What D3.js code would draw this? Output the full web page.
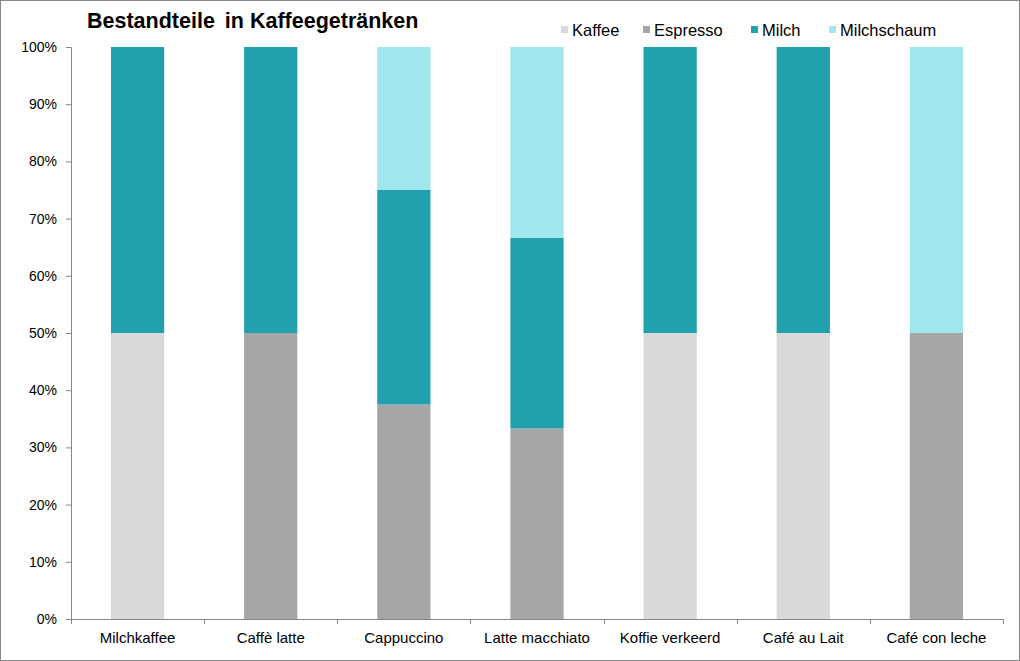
<!DOCTYPE html>
<html>
<head>
<meta charset="utf-8">
<script src="https://cdn.jsdelivr.net/npm/d3@7"></script>
<style>
  body { margin: 0; background: #fff; }
  text { font-family: "Liberation Sans", Arial, sans-serif; }
</style>
</head>
<body>
<div id="chart-container"></div>
<script>
// Data
var categories = ["Milchkaffee", "Caffè latte", "Cappuccino", "Latte macchiato", "Koffie verkeerd", "Café au Lait", "Café con leche"];
var seriesNames = ["Kaffee", "Espresso", "Milch", "Milchschaum"];
var kaffee      = [50, 0, 0, 0, 50, 50, 0];
var espresso    = [0, 50, 37.5, 33.33, 0, 0, 50];
var milch       = [50, 50, 37.5, 33.33, 50, 50, 0];
var milchschaum = [0, 0, 25, 33.34, 0, 0, 50];
var yTicks = [0, 0.1, 0.2, 0.3, 0.4, 0.5, 0.6, 0.7, 0.8, 0.9, 1];
var colors = ["#d9d9d9", "#a6a6a6", "#21a0ad", "#a0e6ec"];

var W = 1020, H = 661;
var margin = { top: 47, right: 17, bottom: 42, left: 71 };
var width = W - margin.left - margin.right,
    height = H - margin.top - margin.bottom;

var table = categories.map(function (c, i) {
    return { cat: c, Kaffee: kaffee[i], Espresso: espresso[i], Milch: milch[i], Milchschaum: milchschaum[i] };
});
var stacked = d3.stack().keys(seriesNames).offset(d3.stackOffsetExpand)(table);

var svgRoot = d3.select("#chart-container").append("svg")
    .attr("width", W).attr("height", H);

// outer border
svgRoot.append("rect")
    .attr("x", 0.5).attr("y", 0.5)
    .attr("width", W - 1).attr("height", H - 1)
    .attr("fill", "#fff").attr("stroke", "#868686");

var svg = svgRoot.append("g")
    .attr("transform", "translate(" + margin.left + "," + margin.top + ")");

var x = d3.scaleBand().domain(categories).range([0, width]).paddingInner(0).paddingOuter(0);
var y = d3.scaleLinear().domain([0, 1]).range([height, 0]);
var barW = x.bandwidth() * 0.4;

// bars
svg.selectAll(".layer")
    .data(stacked)
    .enter().append("g")
    .attr("fill", function (d, i) { return colors[i]; })
    .selectAll("rect")
    .data(function (d) { return d; })
    .enter().append("rect")
    .attr("x", function (d) { return x(d.data.cat) + (x.bandwidth() - barW) / 2; })
    .attr("width", barW)
    .attr("y", function (d) { return y(d[1]); })
    .attr("height", function (d) { return y(d[0]) - y(d[1]); });

// y axis
var yAxis = svg.append("g")
    .call(d3.axisLeft(y).tickValues(yTicks).tickFormat(d3.format(".0%")).tickSize(5).tickPadding(9));
yAxis.select(".domain").attr("stroke", "#868686");
yAxis.selectAll(".tick line").attr("stroke", "#868686");
yAxis.selectAll("text").attr("font-size", "14px").attr("fill", "#000")
    .style("font-family", "'Liberation Sans', Arial, sans-serif");

// x axis (ticks at band edges)
var xAxisG = svg.append("g").attr("transform", "translate(0," + height + ")");
xAxisG.append("line").attr("x1", 0).attr("x2", width).attr("y1", 0.5).attr("y2", 0.5).attr("stroke", "#868686");
xAxisG.selectAll(".xt")
    .data(categories.concat(["end"]))
    .enter().append("line")
    .attr("x1", function (d, i) { return Math.round(i * x.step()) + 0.5; })
    .attr("x2", function (d, i) { return Math.round(i * x.step()) + 0.5; })
    .attr("y1", 0).attr("y2", 5).attr("stroke", "#868686");
xAxisG.selectAll(".xl")
    .data(categories)
    .enter().append("text")
    .attr("x", function (d) { return x(d) + x.bandwidth() / 2; })
    .attr("y", 24)
    .attr("text-anchor", "middle")
    .attr("font-size", "15px")
    .attr("fill", "#000")
    .text(function (d) { return d; });

// title
var title = svgRoot.append("text")
    .attr("x", 87).attr("y", 28)
    .attr("font-size", "21.5px").attr("font-weight", "bold")
    .attr("fill", "#000");
title.append("tspan").text("Bestandteile");
title.append("tspan").attr("dx", 10).text("in Kaffeegetränken");

// legend
var legendX = [561, 643, 751, 829];
var legend = svgRoot.selectAll(".leg")
    .data(seriesNames)
    .enter().append("g")
    .attr("transform", function (d, i) { return "translate(" + legendX[i] + ",30)"; });
legend.append("rect")
    .attr("x", 0).attr("y", -4).attr("width", 7).attr("height", 7)
    .attr("fill", function (d, i) { return colors[i]; });
legend.append("text")
    .attr("x", 11).attr("y", 6)
    .attr("font-size", "16.5px").attr("fill", "#000")
    .text(function (d) { return d; });
</script>
</body>
</html>
